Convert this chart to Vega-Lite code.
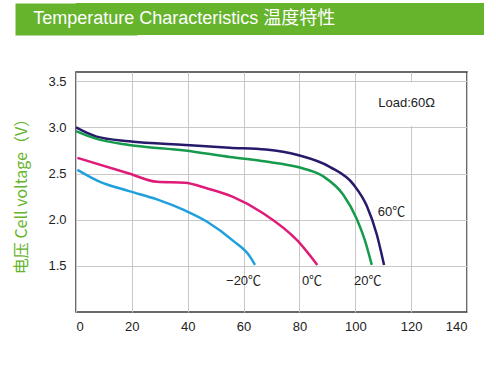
{
  "$schema": "https://vega.github.io/schema/vega-lite/v6.json",
  "padding": {"left": 13, "top": 3, "right": 0, "bottom": 0},
  "background": "white",
  "config": {
    "font": "Liberation Sans",
    "concat": {"spacing": 36}
  },
  "vconcat": [
    {
      "width": 408,
      "height": 32,
      "view": {"fill": "#66b32c", "stroke": null},
      "data": {"values": [{"t": "Temperature Characteristics  温度特性", "x": -0.105, "y": 0.5}]},
      "mark": {"type": "text", "align": "left", "baseline": "middle", "color": "white", "font": "Liberation Sans, Noto Sans CJK SC", "fontSize": 18},
      "encoding": {
        "x": {"field": "x", "type": "quantitative", "scale": {"domain": [0, 1]}, "axis": null},
        "y": {"field": "y", "type": "quantitative", "scale": {"domain": [0, 1]},
          "axis": {"orient": "left", "domain": true, "domainColor": "#66b32c", "domainWidth": 122, "domainCap": "butt", "labels": false, "ticks": false, "grid": false, "title": null}},
        "text": {"field": "t"}
      }
    },
    {
      "width": 391,
      "height": 240,
      "view": {"stroke": "#3a3a3a", "strokeWidth": 1.5},
      "layer": [
        {
          "data": {"values": [{"x": 101, "x2": 139.6, "y": 3.015, "y2": 3.49}]},
          "mark": {"type": "rect", "fill": "white"},
          "encoding": {
            "x": {"field": "x", "type": "quantitative", "scale": {"domain": [0, 140]},
              "axis": {"values": [0, 20, 40, 60, 80, 100, 120, 140], "grid": true, "gridColor": "#c8c8c8", "gridWidth": 1, "ticks": false, "domain": false, "labelFontSize": 13, "labelColor": "#222", "labelPadding": 8, "title": null}},
            "x2": {"field": "x2"},
            "y": {"field": "y", "type": "quantitative", "scale": {"domain": [1, 3.5]},
              "axis": {"values": [1.5, 2.0, 2.5, 3.0, 3.5], "format": ".1f", "grid": true, "gridColor": "#c8c8c8", "gridWidth": 1, "ticks": false, "domain": false, "labelFontSize": 13, "labelColor": "#222", "labelPadding": 10,
                "title": "电压 Cell voltage（V）", "titleColor": "#66b32c", "titleFontSize": 16, "titleFontWeight": "normal", "titleFont": "Noto Sans CJK SC", "titlePadding": 18}},
            "y2": {"field": "y2"}
          }
        },
        {
          "data": {"values": [
            {"s": "60", "x": 0, "y": 3.0}, {"s": "60", "x": 7.4, "y": 2.9}, {"s": "60", "x": 19, "y": 2.85}, {"s": "60", "x": 39, "y": 2.81}, {"s": "60", "x": 55, "y": 2.78}, {"s": "60", "x": 68, "y": 2.76}, {"s": "60", "x": 79.4, "y": 2.7}, {"s": "60", "x": 91, "y": 2.57}, {"s": "60", "x": 99.4, "y": 2.38}, {"s": "60", "x": 104.1, "y": 2.15}, {"s": "60", "x": 107.7, "y": 1.84}, {"s": "60", "x": 110.3, "y": 1.51},
            {"s": "20", "x": 0, "y": 2.96}, {"s": "20", "x": 7.4, "y": 2.875}, {"s": "20", "x": 19, "y": 2.81}, {"s": "20", "x": 39, "y": 2.75}, {"s": "20", "x": 55, "y": 2.68}, {"s": "20", "x": 68, "y": 2.63}, {"s": "20", "x": 79.4, "y": 2.57}, {"s": "20", "x": 88.5, "y": 2.47}, {"s": "20", "x": 95.7, "y": 2.27}, {"s": "20", "x": 100.5, "y": 2.01}, {"s": "20", "x": 103.5, "y": 1.77}, {"s": "20", "x": 105.9, "y": 1.51},
            {"s": "0", "x": 0.5, "y": 2.67}, {"s": "0", "x": 19, "y": 2.5}, {"s": "0", "x": 29, "y": 2.41}, {"s": "0", "x": 39, "y": 2.4}, {"s": "0", "x": 46.8, "y": 2.34}, {"s": "0", "x": 56, "y": 2.25}, {"s": "0", "x": 67, "y": 2.07}, {"s": "0", "x": 79.4, "y": 1.77}, {"s": "0", "x": 86.4, "y": 1.51},
            {"s": "-20", "x": 0.5, "y": 2.54}, {"s": "-20", "x": 8.6, "y": 2.41}, {"s": "-20", "x": 19, "y": 2.31}, {"s": "-20", "x": 29, "y": 2.22}, {"s": "-20", "x": 39, "y": 2.1}, {"s": "-20", "x": 46.8, "y": 1.98}, {"s": "-20", "x": 56.3, "y": 1.77}, {"s": "-20", "x": 62.3, "y": 1.6}, {"s": "-20", "x": 64.1, "y": 1.51}
          ]},
          "mark": {"type": "line", "interpolate": "monotone", "strokeWidth": 2.5},
          "encoding": {
            "x": {"field": "x", "type": "quantitative"},
            "y": {"field": "y", "type": "quantitative"},
            "detail": {"field": "s"},
            "color": {"field": "s", "type": "nominal", "legend": null,
              "scale": {"domain": ["60", "20", "0", "-20"], "range": ["#271a6b", "#169a4c", "#df1b79", "#1fa0dc"]}}
          }
        },
        {
          "data": {"values": [
            {"x": 113, "y": 2.08, "t": "60℃"},
            {"x": 104.5, "y": 1.34, "t": "20℃"},
            {"x": 84.5, "y": 1.34, "t": "0℃"},
            {"x": 60, "y": 1.34, "t": "−20℃"},
            {"x": 118.4, "y": 3.26, "t": "Load:60Ω"}
          ]},
          "mark": {"type": "text", "fontSize": 13, "color": "#222", "font": "Liberation Sans, Noto Sans CJK SC"},
          "encoding": {
            "x": {"field": "x", "type": "quantitative"},
            "y": {"field": "y", "type": "quantitative"},
            "text": {"field": "t"}
          }
        }
      ]
    }
  ]
}
